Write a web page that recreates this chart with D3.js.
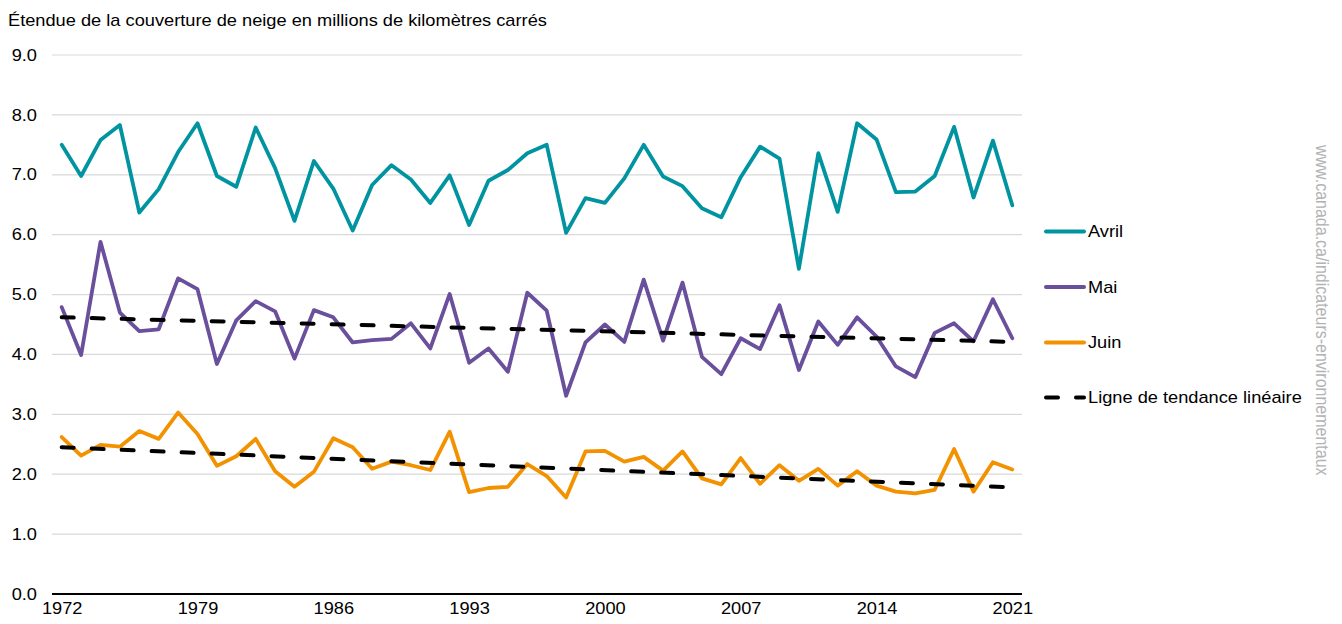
<!DOCTYPE html>
<html><head><meta charset="utf-8">
<script src="https://cdn.jsdelivr.net/npm/d3@7"></script>
<style>
html,body{margin:0;padding:0;background:#fff;}
svg{display:block;font-family:"Liberation Sans",Arial,sans-serif;}
</style></head>
<body><svg id="c" width="1342" height="624"></svg>
<script>
const years = d3.range(1972, 2022);
const avril = [7.50,6.98,7.58,7.83,6.37,6.76,7.38,7.86,6.98,6.80,7.79,7.11,6.23,7.23,6.77,6.07,6.83,7.16,6.92,6.53,6.99,6.16,6.90,7.08,7.36,7.50,6.03,6.61,6.53,6.94,7.50,6.97,6.81,6.44,6.29,6.96,7.47,7.27,5.43,7.36,6.38,7.86,7.59,6.71,6.72,6.98,7.80,6.62,7.57,6.49];
const mai = [4.79,3.99,5.88,4.70,4.39,4.42,5.27,5.09,3.84,4.57,4.89,4.72,3.93,4.74,4.62,4.20,4.24,4.26,4.52,4.10,5.01,3.86,4.10,3.71,5.03,4.73,3.31,4.20,4.50,4.21,5.25,4.23,5.20,3.96,3.67,4.27,4.09,4.82,3.74,4.55,4.16,4.62,4.30,3.80,3.62,4.36,4.52,4.22,4.92,4.27];
const juin = [2.62,2.31,2.49,2.46,2.72,2.59,3.03,2.67,2.14,2.30,2.59,2.05,1.79,2.04,2.60,2.45,2.09,2.21,2.15,2.07,2.71,1.70,1.77,1.79,2.17,1.97,1.61,2.38,2.39,2.21,2.29,2.06,2.38,1.93,1.83,2.27,1.84,2.15,1.89,2.09,1.81,2.05,1.81,1.71,1.68,1.74,2.42,1.71,2.20,2.08];
const trendYears = [1972, 2021];
const maiTrend = [4.62, 4.21];
const juinTrend = [2.45, 1.78];
const yTicks = [0,1,2,3,4,5,6,7,8,9];
const xTickYears = [1972,1979,1986,1993,2000,2007,2014,2021];
const seriesNames = ["Avril","Mai","Juin","Ligne de tendance linéaire"];
const colors = {Avril:"#0094A1", Mai:"#6A4F9C", Juin:"#F39200", trend:"#000000"};
const title = "Étendue de la couverture de neige en millions de kilomètres carrés";
const watermark = "www.canada.ca/indicateurs-environnementaux";

const svg = d3.select("#c");
const sx = 1.14; // horizontal text stretch seen in the reference
const pLeft = 52, pRight = 1022, pTop = 55, pBottom = 594;
const x = d3.scalePoint().domain(years).range([pLeft, pRight]).padding(0.5);
const y = d3.scaleLinear().domain([0, 9]).range([pBottom, pTop]);

// gridlines
svg.append("g").selectAll("line").data(yTicks.filter(d => d > 0)).join("line")
  .attr("x1", pLeft).attr("x2", pRight)
  .attr("y1", d => y(d)).attr("y2", d => y(d))
  .attr("stroke", "#d9d9d9").attr("stroke-width", 1.2);

// y axis labels
const yAxis = d3.axisLeft(y).tickValues(yTicks).tickFormat(d3.format(".1f")).tickSize(0).tickPadding(0);
const gy = svg.append("g").attr("transform", `translate(37,0)`).call(yAxis);
gy.select(".domain").remove();
gy.selectAll("text").attr("x", 0).attr("font-size", 16).attr("fill", "#000")
  .attr("font-family", "Liberation Sans, Arial, sans-serif")
  .attr("transform", `scale(${sx},1)`);

// x axis
const xAxis = d3.axisBottom(x).tickValues(xTickYears).tickSize(0).tickPadding(0);
const gx = svg.append("g").attr("transform", `translate(0,${pBottom})`).call(xAxis);
gx.select(".domain").remove();
gx.selectAll("text").attr("font-size", 16).attr("fill", "#000").attr("dy", "20").attr("y", 0)
  .attr("font-family", "Liberation Sans, Arial, sans-serif")
  .attr("transform", `scale(${sx},1)`);

svg.append("line").attr("x1", pLeft).attr("x2", pRight).attr("y1", y(0)).attr("y2", y(0))
  .attr("stroke", "#000").attr("stroke-width", 2.2);

const line = d3.line().x(d => x(d[0])).y(d => y(d[1]));

function drawSeries(vals, color) {
  svg.append("path").datum(years.map((yr, i) => [yr, vals[i]]))
    .attr("d", line).attr("fill", "none").attr("stroke", color)
    .attr("stroke-width", 3.8).attr("stroke-linejoin", "round").attr("stroke-linecap", "round");
}
drawSeries(avril, colors.Avril);
drawSeries(mai, colors.Mai);
drawSeries(juin, colors.Juin);

function drawTrend(vals) {
  svg.append("path").datum(trendYears.map((yr, i) => [yr, vals[i]]))
    .attr("d", line).attr("fill", "none").attr("stroke", colors.trend)
    .attr("stroke-width", 4).attr("stroke-dasharray", "12,18").attr("stroke-linecap", "round");
}
drawTrend(maiTrend);
drawTrend(juinTrend);

// title
svg.append("text").attr("transform", `translate(8,26) scale(${sx},1)`)
  .attr("font-size", 16).attr("fill", "#000").text(title);

// legend
const legY = [231.5, 287, 342.5, 397.5];
const lg = svg.append("g");
seriesNames.forEach((n, i) => {
  if (i < 3) {
    lg.append("line").attr("x1", 1046).attr("x2", 1084).attr("y1", legY[i]).attr("y2", legY[i])
      .attr("stroke", colors[n]).attr("stroke-width", 4).attr("stroke-linecap", "round");
  } else {
    lg.append("line").attr("x1", 1046).attr("x2", 1084).attr("y1", legY[i]).attr("y2", legY[i])
      .attr("stroke", colors.trend).attr("stroke-width", 4).attr("stroke-linecap", "round")
      .attr("stroke-dasharray", "12,18");
  }
  lg.append("text").attr("transform", `translate(1088,${legY[i]}) scale(${sx},1)`).attr("dy", "0.35em")
    .attr("font-size", 16).attr("fill", "#000").text(n);
});

// watermark
svg.append("text").attr("transform", `translate(1316,145) scale(${sx},1) rotate(90)`)
  .attr("font-size", 16).attr("fill", "#b3b3b3").text(watermark);
</script></body></html>
